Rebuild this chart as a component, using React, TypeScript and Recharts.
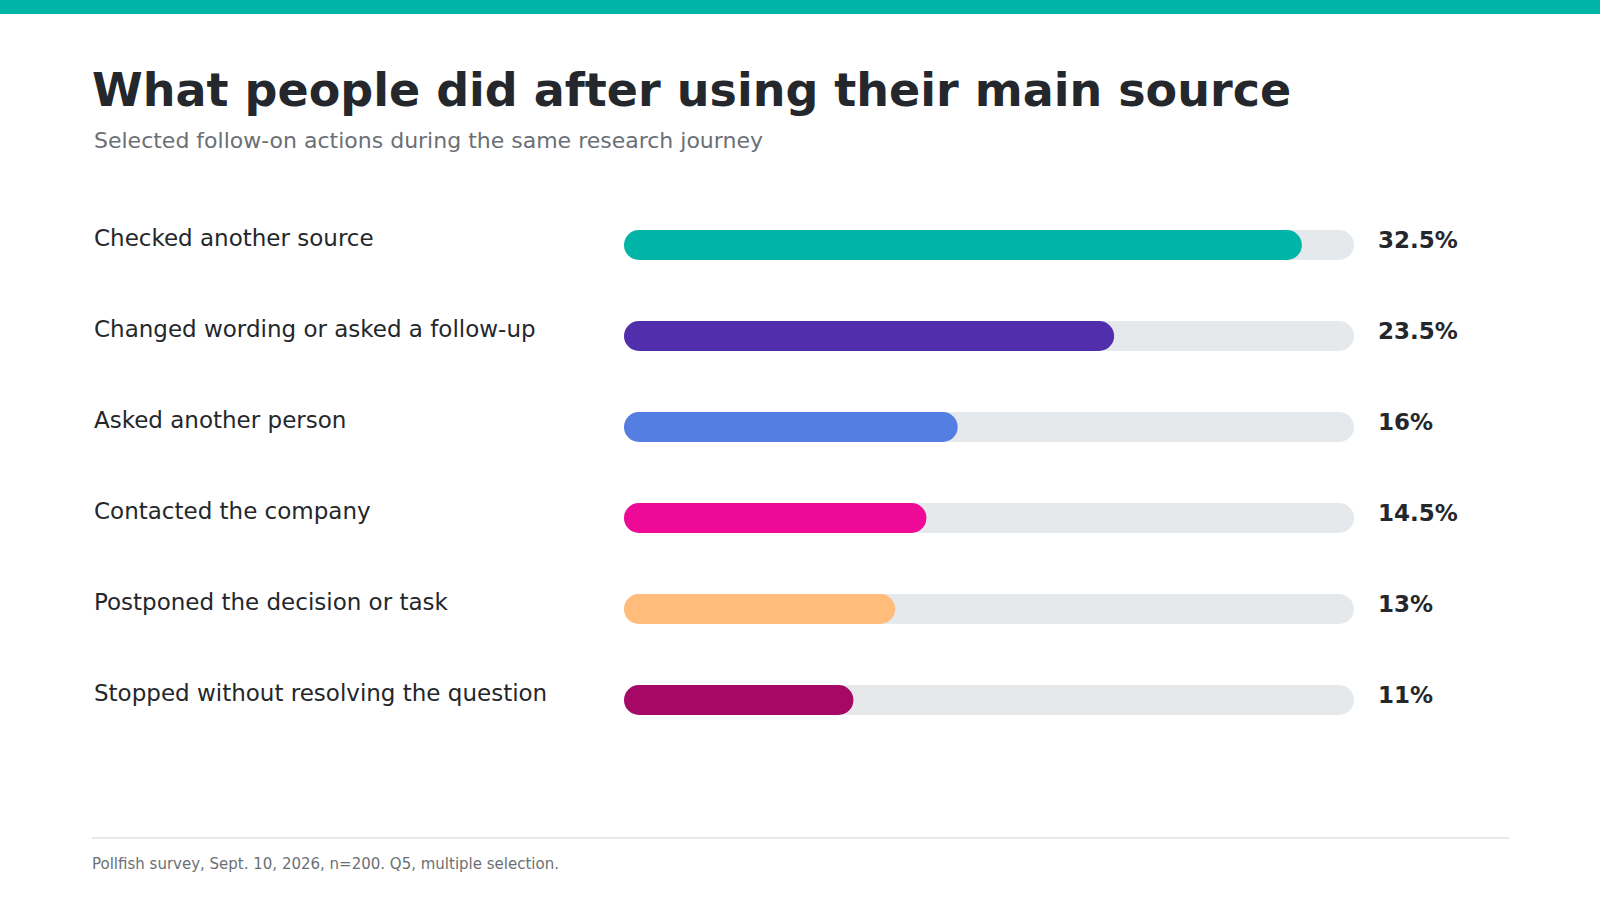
import { BarChart, Bar, XAxis, YAxis, Cell } from "recharts";

const categories = [
    "Checked another source",
    "Changed wording or asked a follow-up",
    "Asked another person",
    "Contacted the company",
    "Postponed the decision or task",
    "Stopped without resolving the question",
];
const shares = [32.5, 23.5, 16, 14.5, 13, 11];
const barColors = ["#00b5a8", "#512eab", "#557ee3", "#ee0a97", "#ffbc7a", "#a50865"];

const FONT = "'DejaVu Sans', Verdana, sans-serif";

const rows = categories.map((name, i) => ({
    name,
    value: shares[i],
    label: `${shares[i]}%`,
}));

function LeftTick({ y, payload }: any) {
    return (
        <text x={94} y={y + 1} textAnchor="start" fontFamily={FONT} fontSize={23} fill="#24272b">
            {payload.value}
        </text>
    );
}

function RightTick({ x, y, payload }: any) {
    return (
        <text x={x + 16} y={y + 3} textAnchor="start" fontFamily={FONT} fontSize={23} fontWeight="bold" fill="#24272b">
            {payload.value}
        </text>
    );
}

export default function App() {
    return (
        <div style={{ position: "absolute", left: 0, top: 0, width: 1600, height: 900, background: "#fff", fontFamily: FONT }}>
            <div style={{ position: "absolute", left: 0, top: 0, width: 1600, height: 14, background: "#00b5a8" }} />
            <div style={{ position: "absolute", left: 92, top: 67, fontSize: 46, lineHeight: "46px", fontWeight: "bold", color: "#24272b", whiteSpace: "nowrap" }}>
                What people did after using their main source
            </div>
            <div style={{ position: "absolute", left: 94, top: 130, fontSize: 22, lineHeight: "22px", color: "#6b6f76", whiteSpace: "nowrap" }}>
                Selected follow-on actions during the same research journey
            </div>

            <div style={{ position: "absolute", left: 0, top: 0 }}>
                <BarChart
                    width={1600}
                    height={760}
                    data={rows}
                    layout="vertical"
                    margin={{ top: 199, right: 0, bottom: 15, left: 0 }}
                >
                    <XAxis type="number" domain={[0, 35]} hide />
                    <YAxis
                        yAxisId="left"
                        type="category"
                        dataKey="name"
                        width={624}
                        axisLine={false}
                        tickLine={false}
                        tick={<LeftTick />}
                        interval={0}
                    />
                    <YAxis
                        yAxisId="right"
                        orientation="right"
                        type="category"
                        dataKey="label"
                        width={246}
                        axisLine={false}
                        tickLine={false}
                        tick={<RightTick />}
                        interval={0}
                    />
                    <Bar
                        yAxisId="left"
                        dataKey="value"
                        barSize={30}
                        radius={15}
                        background={{ fill: "#e6e9ec", radius: 15 }}
                        isAnimationActive={false}
                    >
                        {rows.map((r, i) => (
                            <Cell key={r.name} fill={barColors[i]} />
                        ))}
                    </Bar>
                </BarChart>
            </div>

            <div style={{ position: "absolute", left: 92, top: 837, width: 1417, height: 2, background: "#e5e7ea" }} />
            <div style={{ position: "absolute", left: 92, top: 857, fontSize: 15, lineHeight: "15px", color: "#6b7075", whiteSpace: "nowrap" }}>
                Pollfish survey, Sept. 10, 2026, n=200. Q5, multiple selection.
            </div>
        </div>
    );
}
